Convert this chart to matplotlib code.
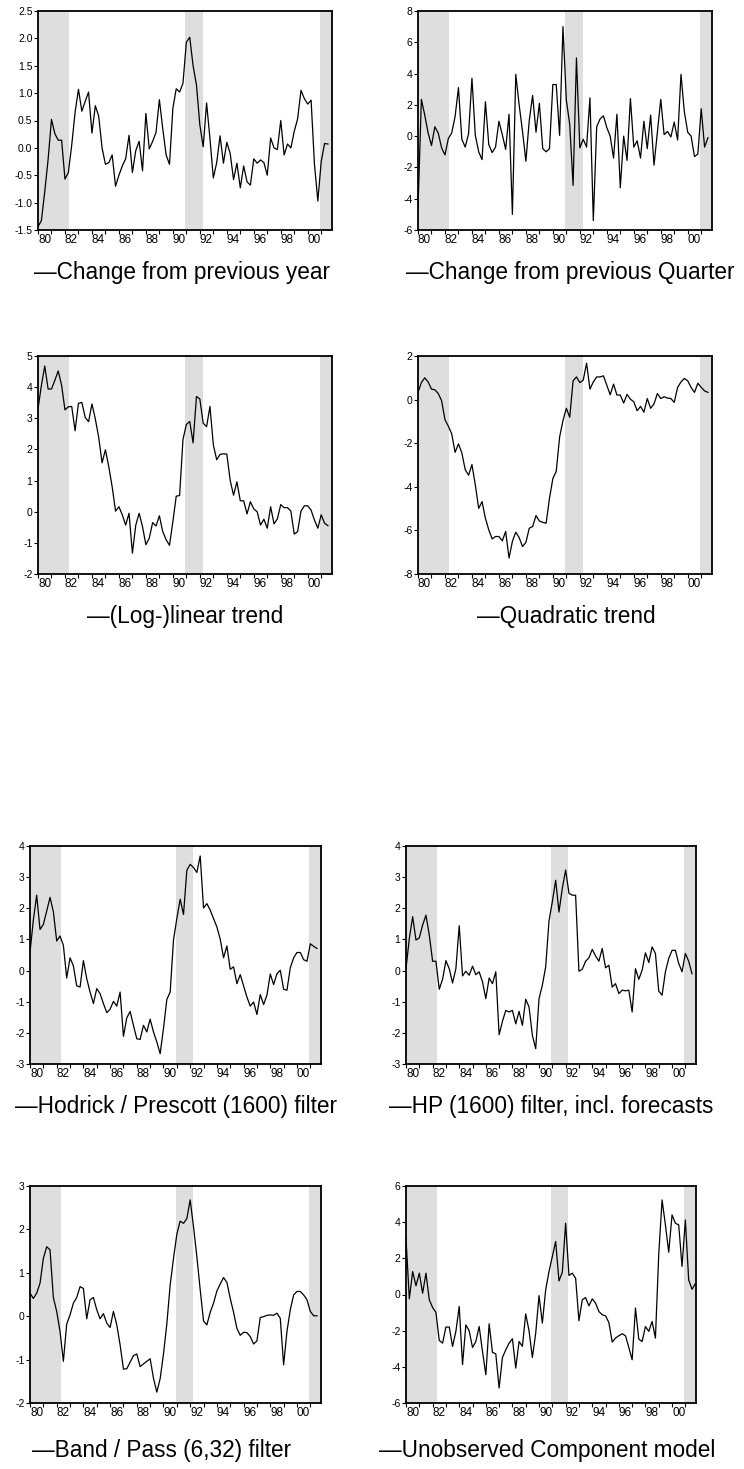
import numpy as np
import pandas as pd
import matplotlib
matplotlib.use("Agg")
import matplotlib.pyplot as plt

plt.rcParams['font.family'] = ['Liberation Sans', 'DejaVu Sans']

# quarterly series, 1980Q1 onwards
yoy = [-1.44, -1.33, -0.8, -0.21, 0.52, 0.26, 0.14, 0.14, -0.57, -0.45,
       0.05, 0.65, 1.07, 0.67, 0.85, 1.02, 0.27, 0.77, 0.58, 0.0,
       -0.3, -0.27, -0.13, -0.7, -0.5, -0.33, -0.2, 0.23, -0.45, -0.05,
       0.12, -0.42, 0.63, -0.02, 0.12, 0.28, 0.88, 0.35, -0.13, -0.3,
       0.72, 1.08, 1.02, 1.18, 1.93, 2.02, 1.5, 1.15, 0.42, 0.02,
       0.82, 0.17, -0.55, -0.27, 0.22, -0.28, 0.1, -0.1, -0.58, -0.28,
       -0.73, -0.33, -0.62, -0.68, -0.2, -0.28, -0.22, -0.27, -0.5, 0.18,
       0.0, -0.03, 0.5, -0.13, 0.07, 0.0, 0.3, 0.53, 1.05, 0.9,
       0.8, 0.87, -0.3, -0.97, -0.25, 0.08, 0.07]

qoq = [-4.6, 2.35, 1.35, 0.2, -0.6, 0.6, 0.2, -0.75, -1.2, -0.15,
       0.2, 1.25, 3.1, -0.2, -0.7, 0.15, 3.7, 0.05, -1.0, -1.5,
       2.2, -0.55, -1.05, -0.7, 0.95, 0.1, -0.85, 1.4, -5.0, 3.95,
       2.0, 0.3, -1.6, 1.0, 2.6, 0.25, 2.1, -0.8, -1.0, -0.8,
       3.3, 3.3, 0.05, 7.0, 2.3, 0.75, -3.15, 5.0, -0.75, -0.2,
       -0.7, 2.45, -5.4, 0.6, 1.1, 1.3, 0.55, 0.0, -1.4, 1.4,
       -3.3, 0.0, -1.55, 2.4, -0.7, -0.3, -1.4, 0.95, -0.8, 1.35,
       -1.85, 0.25, 2.35, 0.1, 0.3, -0.05, 0.9, -0.25, 3.95, 1.55,
       0.25, 0.0, -1.3, -1.15, 1.75, -0.7, -0.1]

loglin = [3.3, 4.05, 4.68, 3.94, 3.94, 4.22, 4.52, 4.06, 3.27, 3.37,
          3.38, 2.6, 3.48, 3.51, 3.03, 2.89, 3.46, 2.98, 2.39, 1.57,
          1.99, 1.44, 0.8, 0.02, 0.16, -0.1, -0.43, -0.05, -1.33, -0.43,
          -0.05, -0.48, -1.06, -0.85, -0.35, -0.46, -0.13, -0.64, -0.9, -1.08,
          -0.32, 0.5, 0.52, 2.32, 2.8, 2.9, 2.21, 3.7, 3.62, 2.84,
          2.73, 3.38, 2.15, 1.67, 1.84, 1.86, 1.85, 1.01, 0.53, 0.96,
          0.35, 0.35, -0.07, 0.32, 0.09, 0.0, -0.43, -0.24, -0.53, 0.16,
          -0.39, -0.23, 0.23, 0.13, 0.13, 0.02, -0.72, -0.64, 0.02, 0.19,
          0.19, 0.05, -0.27, -0.53, -0.1, -0.37, -0.45]

quad = [0.33, 0.78, 1.0, 0.81, 0.48, 0.45, 0.28, -0.05, -0.92, -1.22,
        -1.57, -2.42, -2.03, -2.44, -3.21, -3.47, -2.98, -3.92, -4.99, -4.68,
        -5.45, -5.98, -6.39, -6.28, -6.28, -6.48, -6.05, -7.27, -6.5, -6.08,
        -6.33, -6.74, -6.55, -5.9, -5.82, -5.32, -5.57, -5.63, -5.67, -4.53,
        -3.62, -3.29, -1.72, -0.96, -0.4, -0.81, 0.86, 1.04, 0.78, 0.89,
        1.67, 0.48, 0.81, 1.04, 1.04, 1.09, 0.66, 0.22, 0.71, 0.21,
        0.21, -0.16, 0.24, 0.02, -0.1, -0.51, -0.31, -0.58, 0.05, -0.4,
        -0.2, 0.28, 0.05, 0.13, 0.07, 0.05, -0.13, 0.56, 0.81, 0.97,
        0.86, 0.56, 0.33, 0.75, 0.56, 0.4, 0.33]

hp = [0.58, 1.62, 2.42, 1.32, 1.48, 1.91, 2.35, 1.89, 0.95, 1.11,
      0.81, -0.24, 0.41, 0.15, -0.49, -0.53, 0.32, -0.26, -0.69, -1.06,
      -0.58, -0.74, -1.06, -1.35, -1.24, -0.99, -1.14, -0.69, -2.11, -1.52,
      -1.31, -1.76, -2.19, -2.21, -1.76, -1.97, -1.56, -1.97, -2.29, -2.67,
      -1.86, -0.93, -0.69, 0.98, 1.67, 2.29, 1.8, 3.22, 3.41, 3.31,
      3.15, 3.68, 2.01, 2.15, 1.94, 1.67, 1.4, 1.01, 0.41, 0.79,
      0.04, 0.12, -0.42, -0.13, -0.49, -0.85, -1.14, -1.01, -1.41, -0.77,
      -1.09, -0.79, -0.11, -0.45, -0.1, 0.01, -0.6, -0.63, 0.09, 0.41,
      0.58, 0.58, 0.35, 0.3, 0.86, 0.78, 0.71]

hp_fc = [0.06, 1.03, 1.73, 0.98, 1.05, 1.46, 1.78, 1.14, 0.3, 0.3,
         -0.6, -0.28, 0.32, 0.06, -0.4, 0.06, 1.44, -0.17, -0.02, -0.15,
         0.14, -0.13, -0.04, -0.36, -0.9, -0.24, -0.42, -0.04, -2.06, -1.63,
         -1.28, -1.33, -1.28, -1.71, -1.31, -1.76, -0.92, -1.17, -2.08, -2.51,
         -0.9, -0.47, 0.12, 1.59, 2.21, 2.9, 1.88, 2.64, 3.23, 2.48,
         2.42, 2.42, -0.02, 0.04, 0.3, 0.41, 0.68, 0.47, 0.3, 0.71,
         0.09, 0.17, -0.53, -0.42, -0.74, -0.63, -0.65, -0.63, -1.33, 0.06,
         -0.28, 0.01, 0.57, 0.26, 0.76, 0.55, -0.66, -0.79, -0.04, 0.39,
         0.65, 0.65, 0.23, -0.04, 0.55, 0.3, -0.1]

bp = [0.53, 0.41, 0.53, 0.76, 1.33, 1.6, 1.53, 0.43, 0.11, -0.35,
      -1.04, -0.18, 0.03, 0.3, 0.43, 0.68, 0.64, -0.06, 0.38, 0.43,
      0.15, -0.06, 0.06, -0.16, -0.26, 0.11, -0.2, -0.66, -1.22, -1.21,
      -1.06, -0.91, -0.87, -1.16, -1.1, -1.04, -0.98, -1.43, -1.75, -1.44,
      -0.87, -0.18, 0.72, 1.33, 1.89, 2.19, 2.14, 2.25, 2.68, 2.06,
      1.37, 0.61, -0.11, -0.2, 0.09, 0.3, 0.58, 0.74, 0.89, 0.78,
      0.41, 0.09, -0.28, -0.44, -0.37, -0.38, -0.47, -0.64, -0.57, -0.03,
      -0.01, 0.02, 0.03, 0.02, 0.07, -0.05, -1.12, -0.35, 0.15, 0.49,
      0.57, 0.57, 0.49, 0.38, 0.11, 0.01, 0.01]

uc = [3.1, -0.24, 1.27, 0.48, 1.18, 0.07, 1.18, -0.29, -0.72, -0.99,
      -2.54, -2.69, -1.8, -1.8, -2.87, -2.04, -0.66, -3.88, -1.68, -2.01,
      -2.93, -2.6, -1.77, -3.15, -4.44, -1.62, -3.2, -3.28, -5.17, -3.48,
      -3.06, -2.69, -2.45, -4.07, -2.6, -2.87, -1.07, -2.01, -3.48, -2.14,
      -0.06, -1.58, 0.26, 1.27, 2.1, 2.93, 0.75, 1.23, 3.94, 1.05,
      1.18, 0.9, -1.45, -0.29, -0.17, -0.63, -0.24, -0.48, -0.94, -1.12,
      -1.18, -1.55, -2.63, -2.41, -2.28, -2.17, -2.28, -2.93, -3.61, -0.75,
      -2.47, -2.6, -1.77, -2.04, -1.49, -2.41, 2.23, 5.23, 3.85, 2.34,
      4.4, 3.94, 3.85, 1.55, 4.12, 0.81, 0.29, 0.6]

labels = ['Change from previous year', 'Change from previous Quarter',
          '(Log-)linear trend', 'Quadratic trend',
          'Hodrick / Prescott (1600) filter', 'HP (1600) filter, incl. forecasts',
          'Band / Pass (6,32) filter', 'Unobserved Component model']
series = [yoy, qoq, loglin, quad, hp, hp_fc, bp, uc]
yticks = [np.arange(-1.5, 2.51, 0.5), np.arange(-6, 9, 2),
          np.arange(-2, 6, 1), np.arange(-8, 3, 2),
          np.arange(-3, 5, 1), np.arange(-3, 5, 1),
          np.arange(-2, 4, 1), np.arange(-6, 7, 2)]
recessions = [(1980.0, 1982.3), (1990.9, 1992.2), (2000.9, 2002.0)]

# axes boxes in pixels: left, top, right, bottom ; label centre x, y
W, H = 744, 1469
boxes = [(38, 11, 332, 230, 182, 273), (418, 11, 712, 230, 570, 273),
         (38, 356, 332, 574, 185, 617), (418, 356, 712, 574, 566, 617),
         (30, 846, 321, 1064, 176, 1107), (406, 846, 696, 1064, 551, 1107),
         (30, 1186, 321, 1403, 162, 1450), (406, 1186, 696, 1403, 547, 1450)]


def quarters(n):
    p = pd.period_range('1980Q1', periods=n, freq='Q')
    return np.asarray(p.year + (p.quarter - 1) / 4.0, dtype=float)


fig = plt.figure(figsize=(W / 100, H / 100), dpi=100)

for k, (vals, lab, yt, box) in enumerate(zip(series, labels, yticks, boxes)):
    l, t, r, b, lx, ly = box
    ax = fig.add_axes([l / W, 1 - b / H, (r - l) / W, (b - t) / H])
    for a, e in recessions:
        ax.axvspan(a, e, color='#dedede', lw=0)
    ax.plot(quarters(len(vals)), vals, color='black', lw=0.9)
    ax.set_xlim(1980, 2001.8)
    ax.set_ylim(yt[0], yt[-1])
    years = np.arange(1980, 2002)
    ax.set_xticks(years)
    ax.set_xticklabels(['%02d' % (y % 100) if y % 2 == 0 else '' for y in years],
                       fontsize=8.5, ha='left')
    ax.set_yticks(yt)
    if k == 0:
        ax.set_yticklabels(['%.1f' % v for v in yt], fontsize=7.5)
    else:
        ax.set_yticklabels(['%d' % v for v in yt], fontsize=7.5)
    ax.tick_params(axis='x', direction='out', length=3, width=0.8, pad=0)
    ax.tick_params(axis='y', direction='out', length=3, width=0.8, pad=1)
    for s in ax.spines.values():
        s.set_linewidth(1.3)
    fig.text(lx / W, 1 - ly / H, '\u2014' + lab, fontsize=16.3,
             ha='center', va='center')

fig.savefig('out.png', dpi=100)
